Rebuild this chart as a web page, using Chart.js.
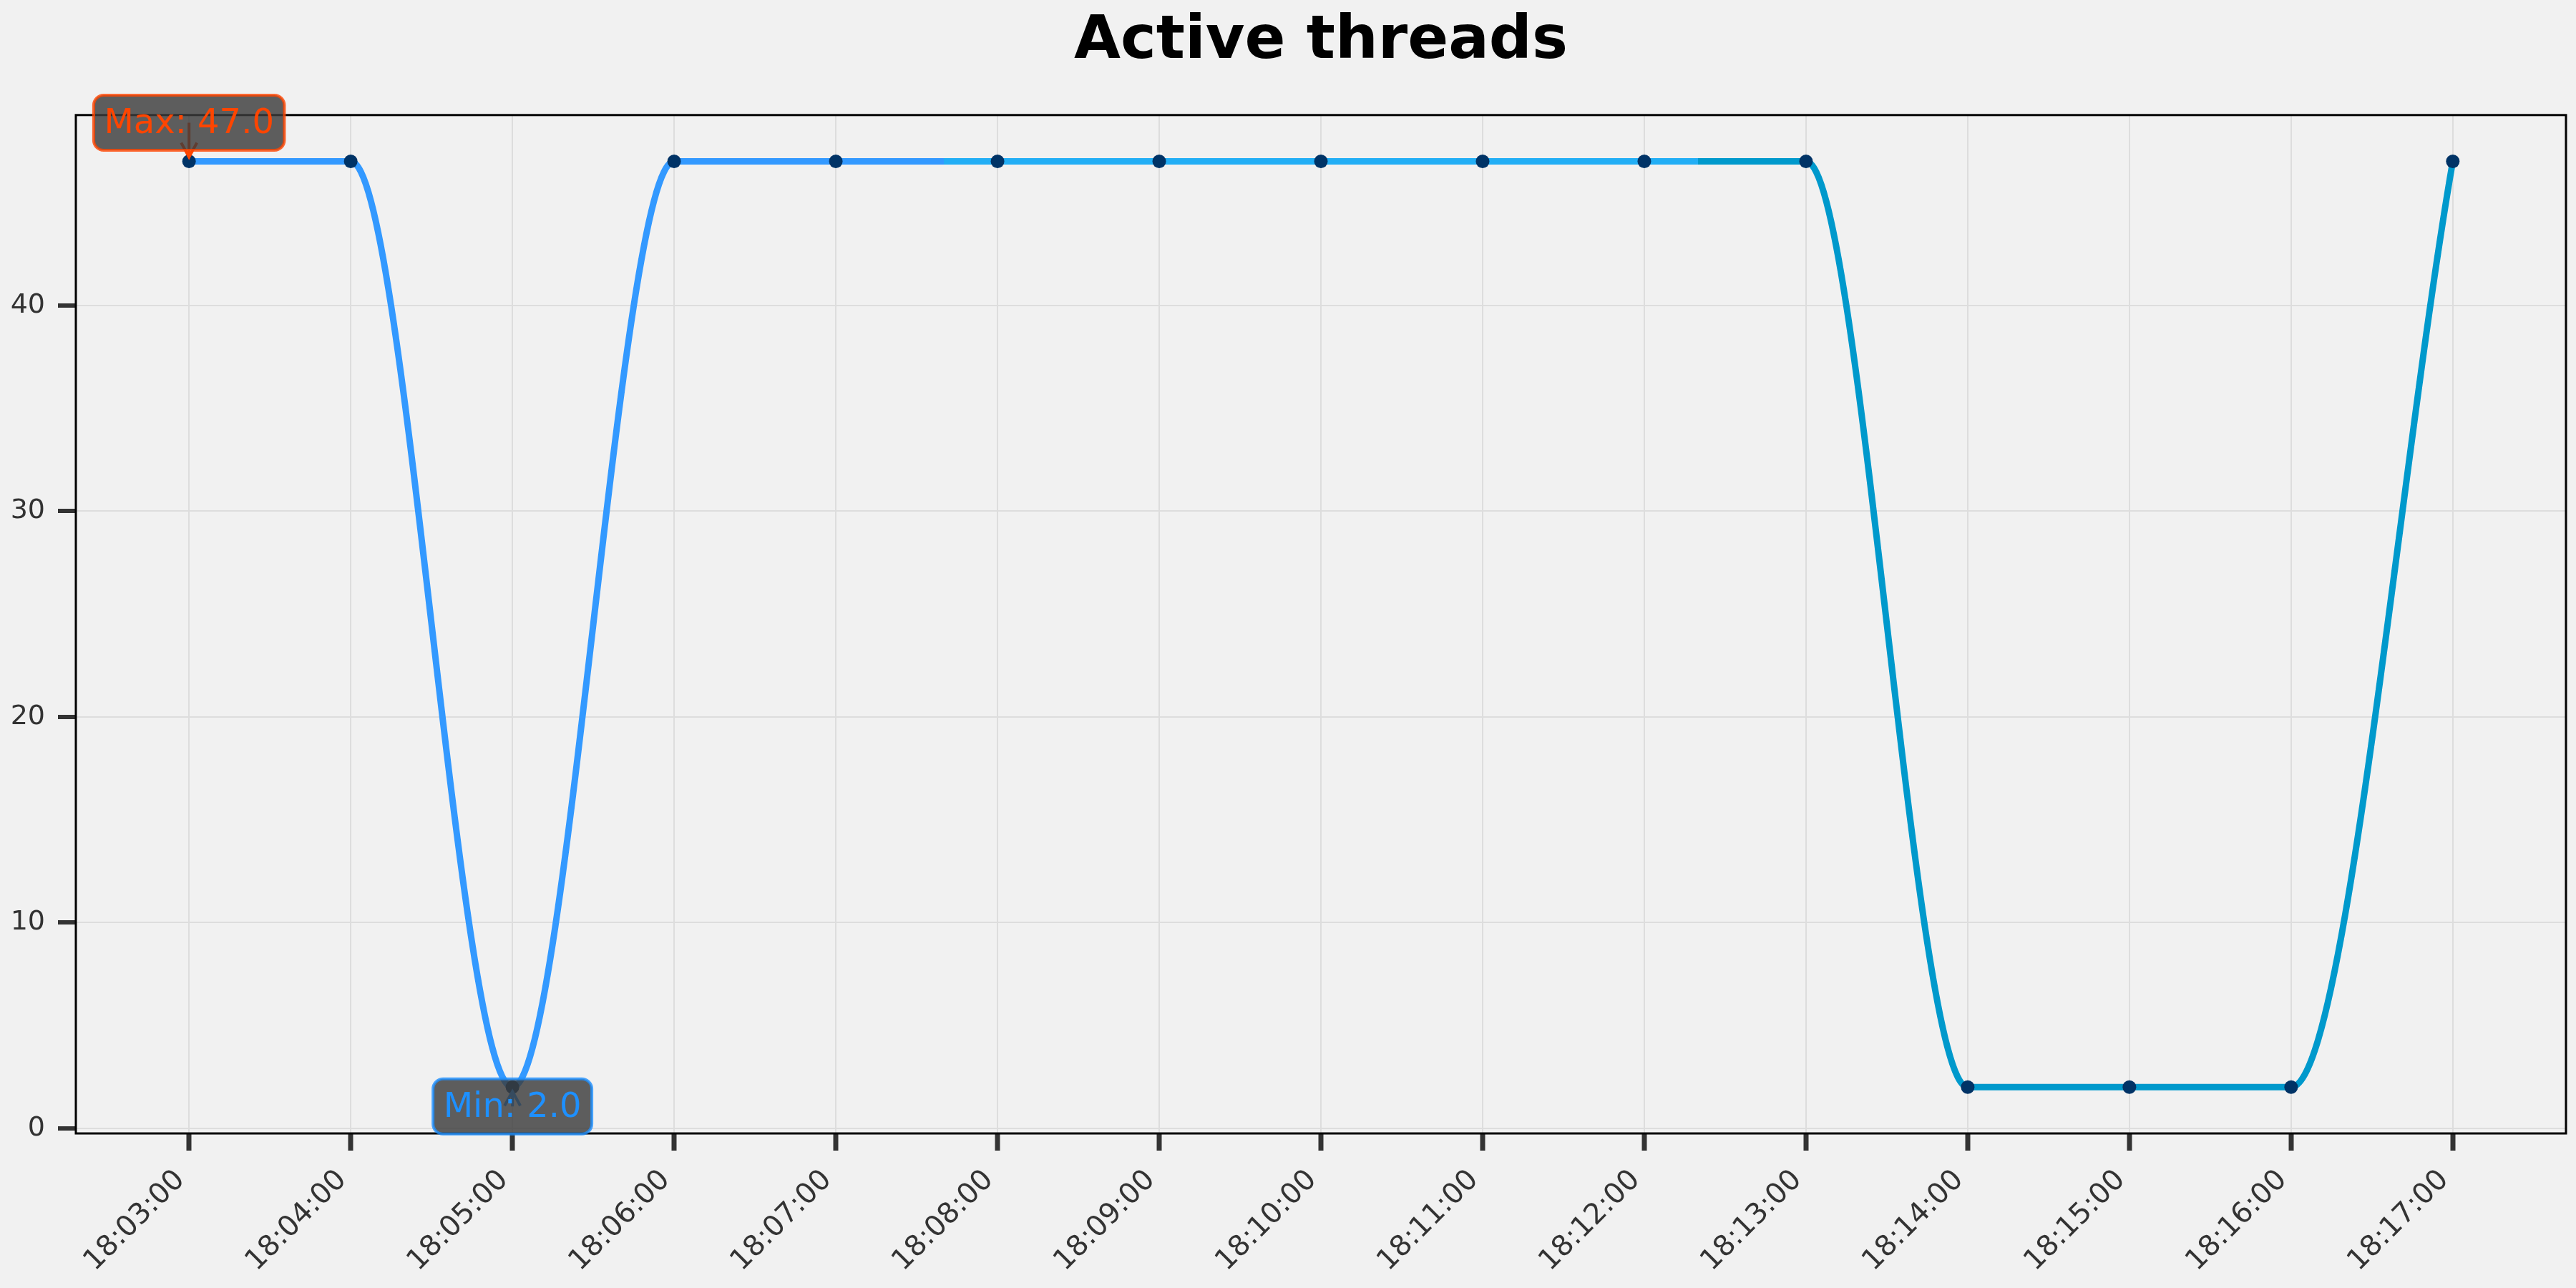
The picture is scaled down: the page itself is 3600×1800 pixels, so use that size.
<!DOCTYPE html>
<html>
<head>
<meta charset="utf-8">
<title>Active threads</title>
<script src="https://cdn.jsdelivr.net/npm/chart.js@4.4.1/dist/chart.umd.min.js"></script>
<style>
  html, body { margin: 0; padding: 0; background: #f1f1f1; }
  #wrap { width: 3600px; height: 1800px; }
</style>
</head>
<body>
<div id="wrap"><canvas id="threadsChart" width="3600" height="1800"></canvas></div>
<script>
// values
const timeLabels = ['18:03:00', '18:04:00', '18:05:00', '18:06:00', '18:07:00',
  '18:08:00', '18:09:00', '18:10:00', '18:11:00', '18:12:00',
  '18:13:00', '18:14:00', '18:15:00', '18:16:00', '18:17:00'];
const activeThreads = [47, 47, 2, 47, 47, 47, 47, 47, 47, 47, 47, 2, 2, 2, 47];
const yTicks = [0, 10, 20, 30, 40];
const lineColors = ['#3399ff', '#22aef5', '#0099cc'];

const FONT = 'DejaVu Sans';

// line is split in three equal parts along x, one colour each
function lineGradient(ctx) {
  const chart = ctx.chart;
  if (!chart.chartArea) return lineColors[0];
  const xs = chart.scales.x;
  const x0 = xs.getPixelForValue(0);
  const x1 = xs.getPixelForValue(timeLabels.length - 1);
  const g = chart.ctx.createLinearGradient(x0, 0, x1, 0);
  g.addColorStop(0, lineColors[0]);
  g.addColorStop(1 / 3, lineColors[0]);
  g.addColorStop(1 / 3, lineColors[1]);
  g.addColorStop(2 / 3, lineColors[1]);
  g.addColorStop(2 / 3, lineColors[2]);
  g.addColorStop(1, lineColors[2]);
  return g;
}

const framePlugin = {
  id: 'frame',
  beforeDatasetsDraw(chart) {
    const { ctx, chartArea: a } = chart;
    ctx.save();
    ctx.strokeStyle = '#000';
    ctx.lineWidth = 3;
    ctx.strokeRect(a.left, a.top, a.right - a.left, a.bottom - a.top);
    ctx.restore();
  }
};

function drawNote(ctx, px, py, text, color, dy) {
  const ty = py + dy;
  const dir = Math.sign(dy);
  const tip = py + dir * 6;
  ctx.save();
  // arrow
  ctx.strokeStyle = color;
  ctx.lineWidth = 4;
  ctx.beginPath();
  ctx.moveTo(px, ty);
  ctx.lineTo(px, tip);
  ctx.moveTo(px - 11, tip + dir * 20);
  ctx.lineTo(px, tip);
  ctx.lineTo(px + 11, tip + dir * 20);
  ctx.stroke();
  // box
  ctx.font = '48px "' + FONT + '"';
  const tw = ctx.measureText(text).width;
  const pad = 14.5;
  const w = tw + pad * 2;
  const h = 48 + pad * 2;
  ctx.beginPath();
  ctx.roundRect(px - w / 2, ty - h / 2, w, h, 14);
  ctx.fillStyle = 'rgba(60,60,60,0.82)';
  ctx.fill();
  ctx.globalAlpha = 0.8;
  ctx.strokeStyle = color;
  ctx.lineWidth = 4;
  ctx.stroke();
  ctx.globalAlpha = 1;
  // text
  ctx.fillStyle = color;
  ctx.textAlign = 'center';
  ctx.textBaseline = 'middle';
  ctx.fillText(text, px, ty + 2);
  ctx.restore();
}

const extremesPlugin = {
  id: 'extremes',
  afterDatasetsDraw(chart) {
    const { ctx, scales: { x, y } } = chart;
    const maxVal = Math.max(...activeThreads);
    const minVal = Math.min(...activeThreads);
    const iMax = activeThreads.indexOf(maxVal);
    const iMin = activeThreads.indexOf(minVal);
    drawNote(ctx, x.getPixelForValue(iMax), y.getPixelForValue(maxVal),
      'Max: ' + maxVal.toFixed(1), '#ff4500', -54);
    drawNote(ctx, x.getPixelForValue(iMin), y.getPixelForValue(minVal),
      'Min: ' + minVal.toFixed(1), '#1e90ff', 27);
  }
};

new Chart(document.getElementById('threadsChart'), {
  type: 'line',
  data: {
    datasets: [{
      label: 'Active threads',
      data: activeThreads.map((v, i) => ({ x: i, y: v })),
      borderColor: lineGradient,
      borderWidth: 9,
      cubicInterpolationMode: 'monotone',
      pointRadius: 9.5,
      pointBorderWidth: 0,
      pointBackgroundColor: '#003366',
      fill: false
    }]
  },
  options: {
    responsive: false,
    animation: false,
    devicePixelRatio: 1,
    layout: { padding: { left: 0, right: 14, top: 0, bottom: 0 } },
    plugins: {
      legend: { display: false },
      tooltip: { enabled: false },
      title: {
        display: true,
        fullSize: false,
        text: 'Active threads',
        color: '#000',
        font: { family: FONT, size: 84, weight: 'bold' },
        padding: { top: 9, bottom: 51 }
      }
    },
    scales: {
      x: {
        type: 'linear',
        min: -0.7,
        max: timeLabels.length - 1 + 0.7,
        afterBuildTicks: s => { s.ticks = timeLabels.map((_, i) => ({ value: i })); },
        afterFit: s => { s.height = 216; },
        border: { display: false },
        grid: {
          color: '#dddddd',
          lineWidth: 2,
          borderDash: [12, 8],
          tickColor: '#333',
          tickWidth: 7,
          tickLength: 24,
          tickBorderDash: []
        },
        ticks: {
          autoSkip: false,
          maxRotation: 45,
          minRotation: 45,
          padding: 18,
          labelOffset: -12,
          color: '#333',
          font: { family: FONT, size: 40 },
          callback: v => timeLabels[v]
        }
      },
      y: {
        min: -0.25,
        max: 49.25,
        afterBuildTicks: s => { s.ticks = yTicks.map(v => ({ value: v })); },
        afterFit: s => { s.width = 106; },
        border: { display: false },
        grid: {
          color: '#dddddd',
          lineWidth: 2,
          borderDash: [12, 8],
          tickColor: '#333',
          tickWidth: 6,
          tickLength: 25,
          tickBorderDash: []
        },
        ticks: {
          padding: 18,
          color: '#333',
          font: { family: FONT, size: 38 },
          callback: v => String(v)
        }
      }
    }
  },
  plugins: [framePlugin, extremesPlugin]
});
</script>
</body>
</html>
